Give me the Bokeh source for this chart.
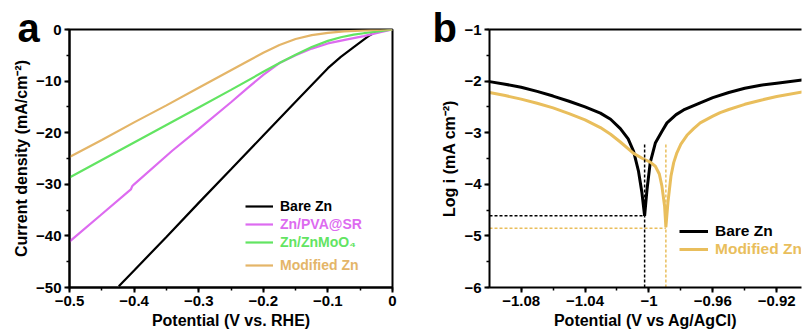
from bokeh.plotting import figure
from bokeh.layouts import row
from bokeh.models import Legend, LegendItem, LinearAxis, SingleIntervalTicker, FixedTicker
from bokeh.embed import file_html
from bokeh.resources import INLINE

# ---------------- Panel a data (LSV) ----------------
bare_v = [-0.4237, -0.4, -0.35, -0.3, -0.25, -0.2, -0.15, -0.1, -0.08, -0.06, -0.045, -0.035, -0.028, -0.02, -0.01, 0.0]
bare_j = [-49.75, -46.7, -40.2, -33.6, -27.1, -20.55, -14.0, -7.5, -5.3, -3.4, -2.0, -1.1, -0.6, -0.3, -0.1, 0.0]

pva_v = [-0.5, -0.452, -0.41, -0.405, -0.403, -0.4, -0.341, -0.3, -0.25, -0.225, -0.2, -0.175, -0.15, -0.125, -0.1, -0.07, -0.0444, -0.0186, 0.0]
pva_j = [-41.1, -36.0, -31.5, -31.0, -30.4, -30.0, -23.5, -19.3, -14.1, -11.4, -8.8, -6.5, -5.0, -3.7, -2.7, -1.9, -1.28, -0.5, 0.0]

mo_v = [-0.5, -0.45, -0.4, -0.35, -0.3, -0.25, -0.2, -0.175, -0.15, -0.125, -0.1, -0.08, -0.06, -0.0444, -0.03, -0.0186, 0.0]
mo_j = [-28.7, -25.3, -21.9, -18.5, -15.1, -11.7, -8.2, -6.5, -4.9, -3.4, -2.2, -1.5, -1.0, -0.72, -0.48, -0.3, 0.0]

mod_v = [-0.5, -0.45, -0.4, -0.35, -0.3, -0.275, -0.25, -0.225, -0.2, -0.175, -0.15, -0.125, -0.1, -0.075, -0.05, -0.025, 0.0]
mod_j = [-24.7, -21.4, -18.0, -14.7, -11.3, -9.6, -7.9, -6.2, -4.5, -3.0, -1.85, -1.1, -0.65, -0.38, -0.2, -0.07, 0.0]

# ---------------- Panel b data (Tafel) ----------------
tb_bare_v = [-1.0998, -1.09, -1.08, -1.07, -1.06, -1.05, -1.04, -1.0304, -1.024, -1.0179, -1.013, -1.0096,
             -1.0065, -1.0044, -1.0027, -1.0012, -0.9992, -0.996, -0.992, -0.9887, -0.983, -0.9783,
             -0.9679, -0.96, -0.95, -0.94, -0.93, -0.92, -0.904]
tb_bare_l = [-2.01, -2.06, -2.12, -2.20, -2.29, -2.39, -2.50, -2.62, -2.74, -2.92, -3.12, -3.36,
             -3.75, -4.16, -4.61, -4.10, -3.58, -3.20, -2.98, -2.81, -2.65, -2.56,
             -2.42, -2.32, -2.22, -2.14, -2.08, -2.04, -1.98]

tb_mod_v = [-1.0998, -1.09, -1.08, -1.07, -1.06, -1.05, -1.04, -1.0304, -1.024, -1.0179, -1.0096, -1.004,
            -0.9992, -0.996, -0.9935, -0.9919, -0.9902, -0.9894, -0.9881, -0.9862, -0.9845, -0.9825,
            -0.98, -0.9762, -0.972, -0.9679, -0.96, -0.9554, -0.95, -0.94, -0.93, -0.92, -0.904]
tb_mod_l = [-2.22, -2.28, -2.35, -2.43, -2.52, -2.63, -2.75, -2.90, -3.03, -3.18, -3.40, -3.50,
            -3.57, -3.65, -3.80, -4.03, -4.42, -4.83, -4.35, -3.84, -3.58, -3.39,
            -3.22, -3.05, -2.92, -2.81, -2.68, -2.61, -2.55, -2.45, -2.37, -2.30, -2.21]

ecorr_bare, icorr_bare, dash_top_bare = -1.0027, -4.61, -3.23
ecorr_mod, icorr_mod, dash_top_mod = -0.9894, -4.85, -3.23

C_BLACK = "#000000"
C_MAG = "#DD6BF0"
C_GREEN = "#62E462"
C_TAN_A = "#E4B568"
C_TAN_B = "#E9BE5C"
FONT = "Liberation Sans"


def style_axes(p, tick_size="15px", title_size="16px"):
    for ax in p.axis:
        ax.axis_line_width = 2
        ax.major_tick_line_width = 2
        ax.minor_tick_line_width = 1.5
        ax.major_tick_in = 0
        ax.major_tick_out = 5
        ax.minor_tick_in = 0
        ax.minor_tick_out = 3
        ax.major_label_text_font = FONT
        ax.major_label_text_font_style = "bold"
        ax.major_label_text_font_size = tick_size
        ax.major_label_text_color = "black"
        ax.axis_label_text_font = FONT
        ax.axis_label_text_font_style = "bold"
        ax.axis_label_text_font_size = title_size
        ax.axis_label_text_color = "black"
        ax.major_label_standoff = 3
        ax.axis_label_standoff = 3
    p.xgrid.visible = False
    p.ygrid.visible = False


def add_legend_item(p, label, renderer, color, x, y, glyph_w, size):
    lg = Legend(items=[LegendItem(label=label, renderers=[renderer])], location=(x, y))
    lg.background_fill_alpha = 0
    lg.border_line_color = None
    lg.padding = 0
    lg.margin = 0
    lg.glyph_width = glyph_w
    lg.glyph_height = 18
    lg.label_height = 18
    lg.label_standoff = 7
    lg.label_text_font = FONT
    lg.label_text_font_style = "bold"
    lg.label_text_font_size = size
    lg.label_text_color = color
    p.add_layout(lg, "center")


def panel_letter(p, text, offset, standoff):
    p.title.text = text
    p.title.align = "left"
    p.title.offset = offset
    p.title.standoff = standoff
    p.title.vertical_align = "bottom"
    p.title.text_font = FONT
    p.title.text_font_style = "bold"
    p.title.text_font_size = "40px"
    p.title.text_color = "black"


# ---------------- Panel a ----------------
pa = figure(width=410, height=331, x_range=(-0.5, 0.0), y_range=(-50, 0),
            output_backend="svg", toolbar_location=None,
            min_border_left=69, min_border_right=18, min_border_top=28, min_border_bottom=43)
pa.outline_line_color = "black"
pa.outline_line_width = 2
pa.outline_line_alpha = 1

ra1 = pa.line(bare_v, bare_j, line_color=C_BLACK, line_width=2.2)
ra2 = pa.line(pva_v, pva_j, line_color=C_MAG, line_width=2.2)
ra3 = pa.line(mo_v, mo_j, line_color=C_GREEN, line_width=2.2)
ra4 = pa.line(mod_v, mod_j, line_color=C_TAN_A, line_width=2.2)

pa.xaxis.ticker = SingleIntervalTicker(interval=0.1, num_minor_ticks=2)
pa.yaxis.ticker = SingleIntervalTicker(interval=10, num_minor_ticks=2)
pa.xaxis.axis_label = "Potential (V vs. RHE)"
pa.yaxis.axis_label = "Current density (mA/cm\u207b\u00b2)"
style_axes(pa)

add_legend_item(pa, "Bare Zn", ra1, "#000000", 176, 72, 28, "14px")
add_legend_item(pa, "Zn/PVA@SR", ra2, C_MAG, 176, 54, 28, "14px")
add_legend_item(pa, "Zn/ZnMoO\u2084", ra3, C_GREEN, 176, 36, 28, "14px")
add_legend_item(pa, "Modified Zn", ra4, C_TAN_A, 176, 13, 28, "14px")

panel_letter(pa, "a", -52, -40)

# ---------------- Panel b ----------------
pb = figure(width=393, height=331, x_range=(-1.0998, -0.9045), y_range=(-6, -1),
            output_backend="svg", toolbar_location=None,
            min_border_left=79, min_border_right=2, min_border_top=29, min_border_bottom=42)
pb.outline_line_color = None

rb1 = pb.line(tb_bare_v, tb_bare_l, line_color=C_BLACK, line_width=3)
rb2 = pb.line(tb_mod_v, tb_mod_l, line_color=C_TAN_B, line_width=3)

x0 = tb_bare_v[0]
pb.line([ecorr_bare, ecorr_bare], [-6, dash_top_bare], line_color=C_BLACK, line_width=1.5, line_dash="3 2")
pb.line([x0, ecorr_bare], [icorr_bare, icorr_bare], line_color=C_BLACK, line_width=1.5, line_dash="3 2")
pb.line([ecorr_mod, ecorr_mod], [-6, dash_top_mod], line_color=C_TAN_B, line_width=1.5, line_dash="3 2")
pb.line([x0, ecorr_mod], [icorr_mod, icorr_mod], line_color=C_TAN_B, line_width=1.5, line_dash="3 2")

pb.xaxis.ticker = SingleIntervalTicker(interval=0.04, num_minor_ticks=2)
pb.yaxis.ticker = SingleIntervalTicker(interval=1, num_minor_ticks=2)
pb.xaxis.axis_label = "Potential (V vs Ag/AgCl)"
pb.yaxis.axis_label = "Log i (mA cm\u207b\u00b2)"
top_ax = LinearAxis(ticker=FixedTicker(ticks=[]), major_label_text_font_size="0px")
pb.add_layout(top_ax, "above")
style_axes(pb)
top_ax.major_tick_out = 0
top_ax.minor_tick_out = 0
top_ax.major_label_standoff = 0

add_legend_item(pb, "Bare Zn", rb1, "#000000", 190, 47, 29, "15.5px")
add_legend_item(pb, "Modified Zn", rb2, C_TAN_B, 190, 29, 29, "15.5px")

panel_letter(pb, "b", -57, -40)

layout = row(pa, pb, spacing=0)
open("out.html", "w").write(file_html(layout, INLINE))
